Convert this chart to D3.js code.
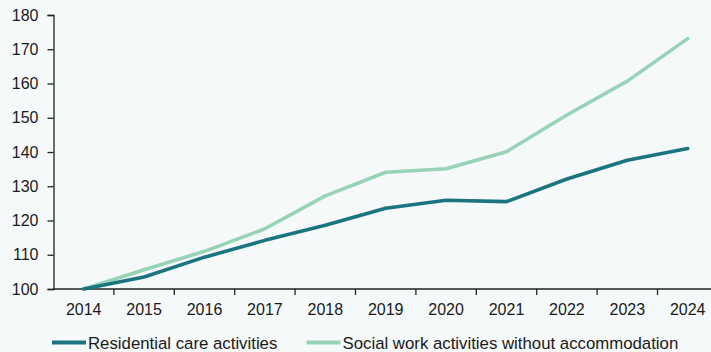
<!DOCTYPE html>
<html>
<head>
<meta charset="utf-8">
<script src="https://cdn.jsdelivr.net/npm/d3@7"></script>
<style>
  body { margin: 0; background: #f5f9fa; }
  svg { display: block; font-family: "Liberation Sans", Arial, sans-serif; }
</style>
</head>
<body>
<svg id="chart" width="711" height="352"></svg>
<script>
const years = [2014, 2015, 2016, 2017, 2018, 2019, 2020, 2021, 2022, 2023, 2024];
const residential = [100, 103.5, 109.3, 114.2, 118.6, 123.6, 125.9, 125.5, 132.1, 137.6, 141];
const socialWork = [100, 105.6, 111, 117.6, 127.2, 134.1, 135.1, 140.1, 150.8, 160.7, 173.1];
const yTicks = [100, 110, 120, 130, 140, 150, 160, 170, 180];
const seriesNames = ["Residential care activities", "Social work activities without accommodation"];
const colors = ["#1b7580", "#97d3b6"];

const width = 711;
const height = 352;
const margin = {top: 15, left: 53.5, bottom: 63};
const bandW = 60.4;

const svg = d3.select("#chart");

const x = d3.scaleBand()
    .domain(years)
    .range([margin.left, margin.left + bandW * years.length]);

const y = d3.scaleLinear()
    .domain([100, 180])
    .range([height - margin.bottom, margin.top]);

// y axis
const yAxis = svg.append("g")
    .attr("transform", `translate(${margin.left},0)`)
    .call(d3.axisLeft(y).tickValues(yTicks).tickSize(6).tickPadding(9));
yAxis.select(".domain").attr("stroke", "#222").attr("stroke-width", 1.3);
yAxis.selectAll(".tick line").attr("stroke", "#222").attr("stroke-width", 1.3);
yAxis.selectAll("text").attr("font-size", 16).attr("fill", "#1a1a1a")
    .attr("font-family", "Liberation Sans, Arial, sans-serif");

// x axis
const xg = svg.append("g")
    .attr("transform", `translate(0,${y(100)})`);
xg.append("line")
    .attr("x1", margin.left).attr("x2", width)
    .attr("stroke", "#222").attr("stroke-width", 1.3);
xg.selectAll(".xtick")
    .data(years.slice(1))
    .join("line")
    .attr("x1", d => x(d)).attr("x2", d => x(d))
    .attr("y1", 0).attr("y2", 6)
    .attr("stroke", "#222").attr("stroke-width", 1.3);
xg.selectAll(".xlab")
    .data(years)
    .join("text")
    .attr("x", d => x(d) + x.bandwidth() / 2)
    .attr("y", 26)
    .attr("text-anchor", "middle")
    .attr("font-size", 16)
    .attr("fill", "#1a1a1a")
    .text(d => d);

const line = d3.line()
    .x((d, i) => x(years[i]) + x.bandwidth() / 2)
    .y(d => y(d));

[socialWork, residential].forEach((vals, k) => {
    svg.append("path")
        .attr("fill", "none")
        .attr("stroke", k === 0 ? colors[1] : colors[0])
        .attr("stroke-width", 3.6)
        .attr("stroke-linejoin", "round")
        .attr("stroke-linecap", "round")
        .attr("d", line(vals));
});

// legend
const legendItems = [
    {name: seriesNames[0], color: colors[0], x: 52},
    {name: seriesNames[1], color: colors[1], x: 306.5}
];
const lg = svg.append("g").attr("transform", "translate(0,342.5)");
legendItems.forEach(it => {
    lg.append("line")
        .attr("x1", it.x).attr("x2", it.x + 34)
        .attr("stroke", it.color).attr("stroke-width", 4);
    lg.append("text")
        .attr("x", it.x + 36)
        .attr("y", 6)
        .attr("font-size", 16.8)
        .attr("fill", "#1a1a1a")
        .text(it.name);
});
</script>
</body>
</html>
